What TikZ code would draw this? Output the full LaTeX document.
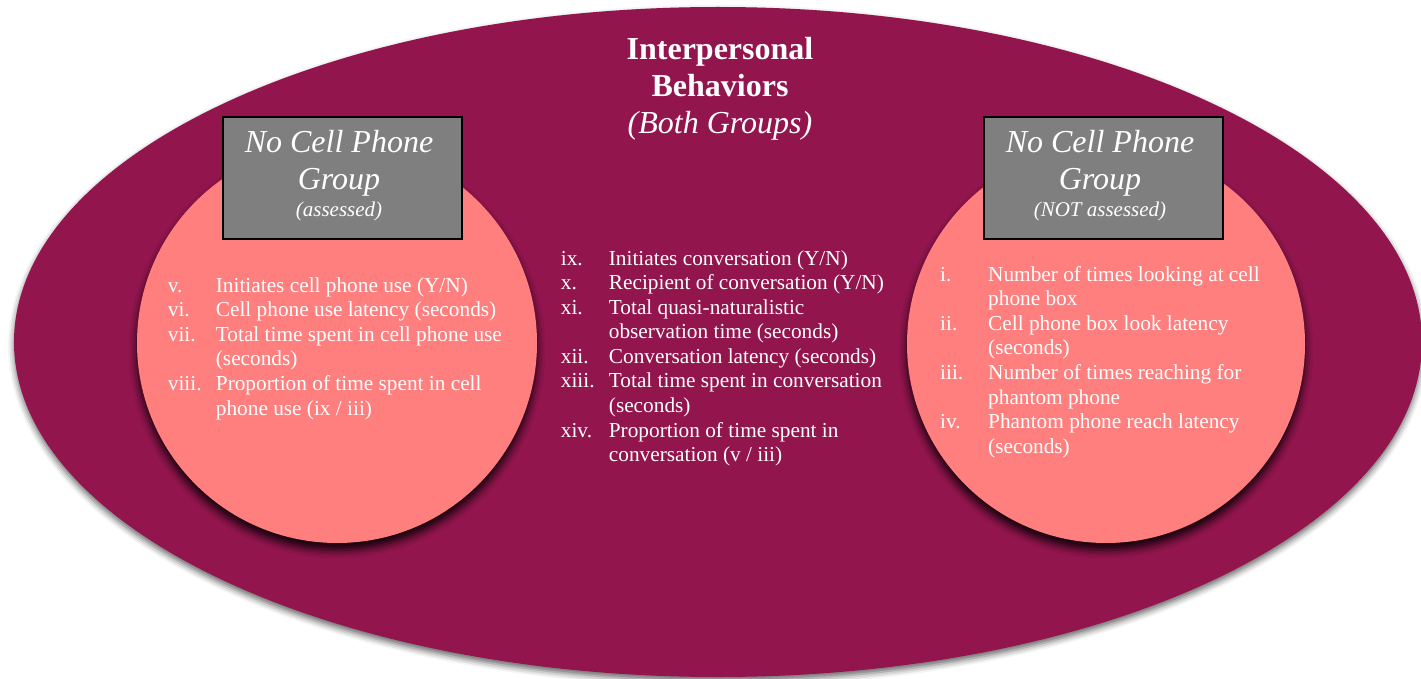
\documentclass[tikz,border=0pt]{standalone}
\usepackage{fontspec}
\setmainfont{Liberation Serif}
\usepackage{xcolor}
\usetikzlibrary{shadows.blur}

\definecolor{outerfill}{RGB}{147,21,78}
\definecolor{groupfill}{RGB}{255,127,127}
\definecolor{boxgray}{RGB}{127,127,127}

\tikzset{
  groupbox/.style={draw=black, line width=2pt, fill=boxgray,
    minimum width=239pt, minimum height=122pt, inner sep=0pt},
  headtext/.style={text=white, inner sep=0pt, anchor=base,
    font=\fontsize{32}{37}\selectfont\itshape},
  notetext/.style={text=white, inner sep=0pt, anchor=base,
    font=\fontsize{21}{25}\selectfont\itshape},
  listtext/.style={text=white, inner sep=0pt, anchor=base west,
    font=\fontsize{21.3}{24.6}\selectfont},
  groupshadow/.style={blur shadow={shadow xshift=0pt, shadow yshift=-7pt,
    shadow blur radius=8pt, shadow opacity=90}},
}

\begin{document}
\begin{tikzpicture}[x=1pt,y=-1pt]
  \useasboundingbox (0,0) rectangle (1421,679);
  \clip (0,0) rectangle (1421,679);
  % Elipse exterior
  \fill[outerfill, blur shadow={shadow xshift=0pt, shadow yshift=-4pt,
    shadow blur radius=6pt, shadow opacity=60}]
    (718,342) ellipse [x radius=704pt, y radius=335pt];
  % Circulos de los grupos
  \fill[groupfill, groupshadow] (337,343) circle [radius=200pt];
  \fill[groupfill, groupshadow] (1106,344) circle [radius=199pt];
  % Titulo
  \node[text=white, inner sep=0pt, anchor=base,
    font=\fontsize{32}{37}\selectfont\bfseries] (title) at (720,59.3)
    {\begin{tabular}[t]{@{}c@{}}Interpersonal\\Behaviors\\
      {\mdseries\itshape (Both Groups)}\end{tabular}};
  % Caja izquierda
  \node[groupbox] (lbox) at (342.5,178) {};
  \node[headtext] (lname) at (339,152.7)
    {\begin{tabular}[t]{@{}c@{}}No Cell Phone\\Group\end{tabular}};
  \node[notetext] (lnote) at (339,216.7) {(assessed)};
  % Caja derecha
  \node[groupbox] (rbox) at (1103.5,178) {};
  \node[headtext] (rname) at (1100,152.7)
    {\begin{tabular}[t]{@{}c@{}}No Cell Phone\\Group\end{tabular}};
  \node[notetext] (rnote) at (1100,216.7) {(NOT assessed)};
  % Lista izquierda
  \node[listtext] (llist) at (167.7,292)
    {\begin{tabular}[t]{@{}p{48pt}@{}l@{}}
      v. & Initiates cell phone use (Y/N)\\
      vi. & Cell phone use latency (seconds)\\
      vii. & Total time spent in cell phone use\\
       & (seconds)\\
      viii. & Proportion of time spent in cell\\
       & phone use (ix / iii)
    \end{tabular}};
  % Lista central
  \node[listtext] (mlist) at (560.7,265)
    {\begin{tabular}[t]{@{}p{48pt}@{}l@{}}
      ix. & Initiates conversation (Y/N)\\
      x. & Recipient of conversation (Y/N)\\
      xi. & Total quasi-naturalistic\\
       & observation time (seconds)\\
      xii. & Conversation latency (seconds)\\
      xiii. & Total time spent in conversation\\
       & (seconds)\\
      xiv. & Proportion of time spent in\\
       & conversation (v / iii)
    \end{tabular}};
  % Lista derecha
  \node[listtext] (rlist) at (940,281)
    {\begin{tabular}[t]{@{}p{48pt}@{}l@{}}
      i. & Number of times looking at cell\\
       & phone box\\
      ii. & Cell phone box look latency\\
       & (seconds)\\
      iii. & Number of times reaching for\\
       & phantom phone\\
      iv. & Phantom phone reach latency\\
       & (seconds)
    \end{tabular}};
\end{tikzpicture}
\end{document}
